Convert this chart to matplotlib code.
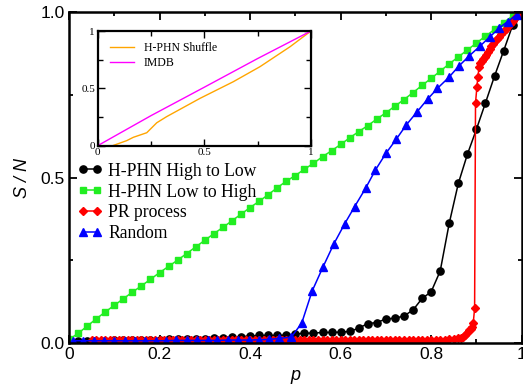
import matplotlib
matplotlib.use("Agg")
import matplotlib.pyplot as plt
from matplotlib.ticker import MultipleLocator, FixedLocator

# ---------------- data ----------------
black_p = [0.00, 0.02, 0.04, 0.06, 0.08, 0.10, 0.12, 0.14, 0.16, 0.18, 0.20, 0.22, 0.24, 0.26, 0.28,
           0.30, 0.32, 0.34, 0.36, 0.38, 0.40, 0.42, 0.44, 0.46, 0.48, 0.50, 0.52, 0.54, 0.56, 0.58,
           0.60, 0.62, 0.64, 0.66, 0.68, 0.70, 0.72, 0.74, 0.76, 0.78, 0.80, 0.82, 0.84, 0.86, 0.88,
           0.90, 0.92, 0.94, 0.96, 0.98, 1.00]
black_s = [0.003, 0.004, 0.005, 0.006, 0.006, 0.007, 0.007, 0.008, 0.008, 0.009, 0.009, 0.010, 0.010,
           0.011, 0.011, 0.012, 0.013, 0.014, 0.016, 0.018, 0.020, 0.022, 0.022, 0.022, 0.023, 0.026,
           0.029, 0.029, 0.031, 0.031, 0.032, 0.034, 0.044, 0.058, 0.061, 0.072, 0.074, 0.081, 0.099,
           0.134, 0.154, 0.217, 0.362, 0.482, 0.570, 0.646, 0.726, 0.807, 0.883, 0.961, 1.000]

green_p = black_p
green_s = [0.010, 0.028, 0.050, 0.072, 0.093, 0.113, 0.133, 0.153, 0.172, 0.192, 0.212, 0.231, 0.250,
           0.270, 0.290, 0.310, 0.330, 0.349, 0.369, 0.389, 0.409, 0.428, 0.448, 0.469, 0.489, 0.506,
           0.525, 0.543, 0.563, 0.581, 0.600, 0.620, 0.639, 0.657, 0.677, 0.696, 0.716, 0.736, 0.757,
           0.779, 0.800, 0.822, 0.844, 0.865, 0.886, 0.907, 0.928, 0.948, 0.969, 0.989, 1.000]

red_p = [0.05, 0.06, 0.07, 0.08, 0.09, 0.10, 0.11, 0.12, 0.13, 0.14, 0.15, 0.16, 0.17, 0.18, 0.19,
         0.20, 0.21, 0.22, 0.23, 0.24, 0.25, 0.26, 0.27, 0.28, 0.29, 0.30, 0.31, 0.32, 0.33, 0.34,
         0.35, 0.36, 0.37, 0.38, 0.39, 0.40, 0.41, 0.42, 0.43, 0.44, 0.45, 0.46, 0.47, 0.48, 0.49,
         0.50, 0.51, 0.52, 0.53, 0.54, 0.55, 0.56, 0.57, 0.58, 0.59, 0.60, 0.61, 0.62, 0.63, 0.64,
         0.65, 0.66, 0.67, 0.68, 0.69, 0.70, 0.71, 0.72, 0.73, 0.74, 0.75, 0.76, 0.77, 0.78, 0.79,
         0.80, 0.81, 0.82, 0.83, 0.84, 0.85, 0.86, 0.865, 0.870, 0.875, 0.880, 0.884, 0.887, 0.890,
         0.893, 0.896, 0.898, 0.901, 0.903, 0.906, 0.909, 0.912, 0.915, 0.918, 0.921, 0.925, 0.929,
         0.933, 0.937, 0.941, 0.945, 0.950, 0.955, 0.960, 0.965, 0.970, 0.975, 0.980, 0.985, 0.990,
         0.995, 1.000]
red_s = [0.007, 0.007, 0.007, 0.007, 0.007, 0.007, 0.007, 0.007, 0.007, 0.007, 0.007, 0.007, 0.007,
         0.007, 0.007, 0.007, 0.007, 0.007, 0.007, 0.007, 0.007, 0.007, 0.007, 0.007, 0.007, 0.007,
         0.007, 0.007, 0.007, 0.007, 0.007, 0.007, 0.007, 0.007, 0.007, 0.007, 0.007, 0.007, 0.007,
         0.007, 0.007, 0.007, 0.007, 0.007, 0.007, 0.007, 0.007, 0.007, 0.007, 0.007, 0.007, 0.007,
         0.007, 0.007, 0.007, 0.007, 0.007, 0.007, 0.007, 0.007, 0.008, 0.008, 0.008, 0.008, 0.008,
         0.008, 0.008, 0.008, 0.008, 0.008, 0.008, 0.008, 0.008, 0.008, 0.008, 0.008, 0.009, 0.009,
         0.009, 0.010, 0.011, 0.013, 0.015, 0.018, 0.022, 0.028, 0.038, 0.043, 0.048, 0.060, 0.104,
         0.726, 0.773, 0.803, 0.835, 0.846, 0.853, 0.860, 0.866, 0.871, 0.880, 0.889, 0.897, 0.905,
         0.912, 0.918, 0.926, 0.934, 0.942, 0.950, 0.958, 0.966, 0.974, 0.982, 0.989, 0.995, 1.000]

blue_p = [0.009, 0.032, 0.055, 0.078, 0.100, 0.123, 0.146, 0.169, 0.192, 0.214, 0.237, 0.260, 0.283,
          0.306, 0.328, 0.351, 0.374, 0.397, 0.420, 0.442, 0.465, 0.491, 0.514, 0.537, 0.561, 0.585,
          0.609, 0.631, 0.655, 0.677, 0.700, 0.723, 0.745, 0.769, 0.792, 0.814, 0.839, 0.861, 0.884,
          0.908, 0.930, 0.950, 0.969, 0.989]
blue_s = [0.006, 0.006, 0.006, 0.006, 0.006, 0.006, 0.006, 0.006, 0.006, 0.006, 0.007, 0.007, 0.007,
          0.007, 0.007, 0.008, 0.008, 0.008, 0.009, 0.010, 0.013, 0.017, 0.059, 0.156, 0.229, 0.299,
          0.360, 0.412, 0.467, 0.523, 0.573, 0.616, 0.659, 0.699, 0.737, 0.770, 0.803, 0.837, 0.868,
          0.898, 0.926, 0.952, 0.972, 0.993]

inset_shuffle_x = [0.0, 0.07, 0.10, 0.136, 0.167, 0.23, 0.277, 0.323, 0.48, 0.636, 0.761, 0.808, 0.902, 1.0]
inset_shuffle_y = [0.0, 0.0, 0.02, 0.044, 0.073, 0.113, 0.20, 0.253, 0.413, 0.558, 0.689, 0.747, 0.863, 1.0]
inset_imdb_x = [0.0, 0.1, 0.25, 0.5, 0.65, 0.75, 1.0]
inset_imdb_y = [0.0, 0.105, 0.262, 0.51, 0.66, 0.76, 1.0]

labels = ["H-PHN High to Low", "H-PHN Low to High", "PR process", "Random"]
x_tick_labels = ["0", "0.2", "0.4", "0.6", "0.8", "1"]
y_tick_labels = ["0.0", "0.5", "1.0"]
inset_labels = ["H-PHN Shuffle", "IMDB"]

SANS = ["Liberation Sans", "DejaVu Sans"]
SERIF = ["Liberation Serif", "DejaVu Serif"]

fig = plt.figure(figsize=(5.23, 3.91), dpi=100)
ax = fig.add_axes([0.1319, 0.1235, 0.8656, 0.845])

ax.plot(black_p, black_s, color="black", lw=1.1, marker="o", ms=5.2, label=labels[0])
ax.plot(green_p, green_s, color="#22ee22", lw=1.1, marker="s", ms=4.3, label=labels[1])
ax.plot(red_p, red_s, color="#ff0000", lw=1.1, marker="D", ms=3.8, label=labels[2])
ax.plot(blue_p, blue_s, color="#0000ff", lw=1.1, marker="^", ms=5.2, label=labels[3])

ax.set_xlim(0, 1)
ax.set_ylim(0, 1)
ax.xaxis.set_major_locator(FixedLocator([0, 0.2, 0.4, 0.6, 0.8, 1.0]))
ax.xaxis.set_minor_locator(MultipleLocator(0.1))
ax.yaxis.set_major_locator(FixedLocator([0, 0.5, 1.0]))
ax.yaxis.set_minor_locator(MultipleLocator(0.25))
ax.set_xticklabels(x_tick_labels, fontfamily=SANS, fontsize=12.5)
ax.set_yticklabels(y_tick_labels, fontfamily=SANS, fontsize=12.5)
ax.tick_params(which="both", direction="in", top=True, right=True, width=1.3)
ax.tick_params(which="major", length=6, pad=3)
ax.tick_params(which="minor", length=3)
for sp in ax.spines.values():
    sp.set_linewidth(1.8)

ax.set_ylabel("S / N", fontfamily=SANS, fontsize=13, fontstyle="italic")
ax.yaxis.set_label_coords(-0.085, 0.5)
ax.set_xlabel("p", fontfamily=SANS, fontsize=13, fontstyle="italic")
ax.xaxis.set_label_coords(0.5, -0.075)

leg = ax.legend(loc="upper left", bbox_to_anchor=(0.02, 0.545), frameon=False, numpoints=2,
                handlelength=1.35, handletextpad=0.35, labelspacing=0.22, borderpad=0,
                borderaxespad=0, prop={"family": SERIF, "size": 12.7})

# inset
ins = fig.add_axes([0.1868, 0.6274, 0.4078, 0.2933])
ins.plot(inset_shuffle_x, inset_shuffle_y, color="#ffa500", lw=1.0, label=inset_labels[0])
ins.plot(inset_imdb_x, inset_imdb_y, color="#ff00ff", lw=1.0, label=inset_labels[1])
ins.set_xlim(0, 1)
ins.set_ylim(0, 1)
ins.xaxis.set_major_locator(FixedLocator([0, 0.5, 1.0]))
ins.xaxis.set_minor_locator(MultipleLocator(0.25))
ins.yaxis.set_major_locator(FixedLocator([0, 0.5, 1.0]))
ins.yaxis.set_minor_locator(MultipleLocator(0.25))
ins.set_xticklabels(["0", "0.5", "1"], fontfamily=SERIF, fontsize=8)
ins.set_yticklabels(["0", "0.5", "1"], fontfamily=SERIF, fontsize=8)
ins.tick_params(which="both", direction="in", top=True, right=True, width=1.0)
ins.tick_params(which="major", length=5, pad=2)
ins.tick_params(which="minor", length=3.5)
for sp in ins.spines.values():
    sp.set_linewidth(1.6)
ins.legend(loc="upper left", bbox_to_anchor=(0.06, 0.9), frameon=False, handlelength=2.0,
           handletextpad=0.8, labelspacing=0.25, borderpad=0, borderaxespad=0,
           prop={"family": SERIF, "size": 8.5})

fig.savefig("out.png", dpi=100)
